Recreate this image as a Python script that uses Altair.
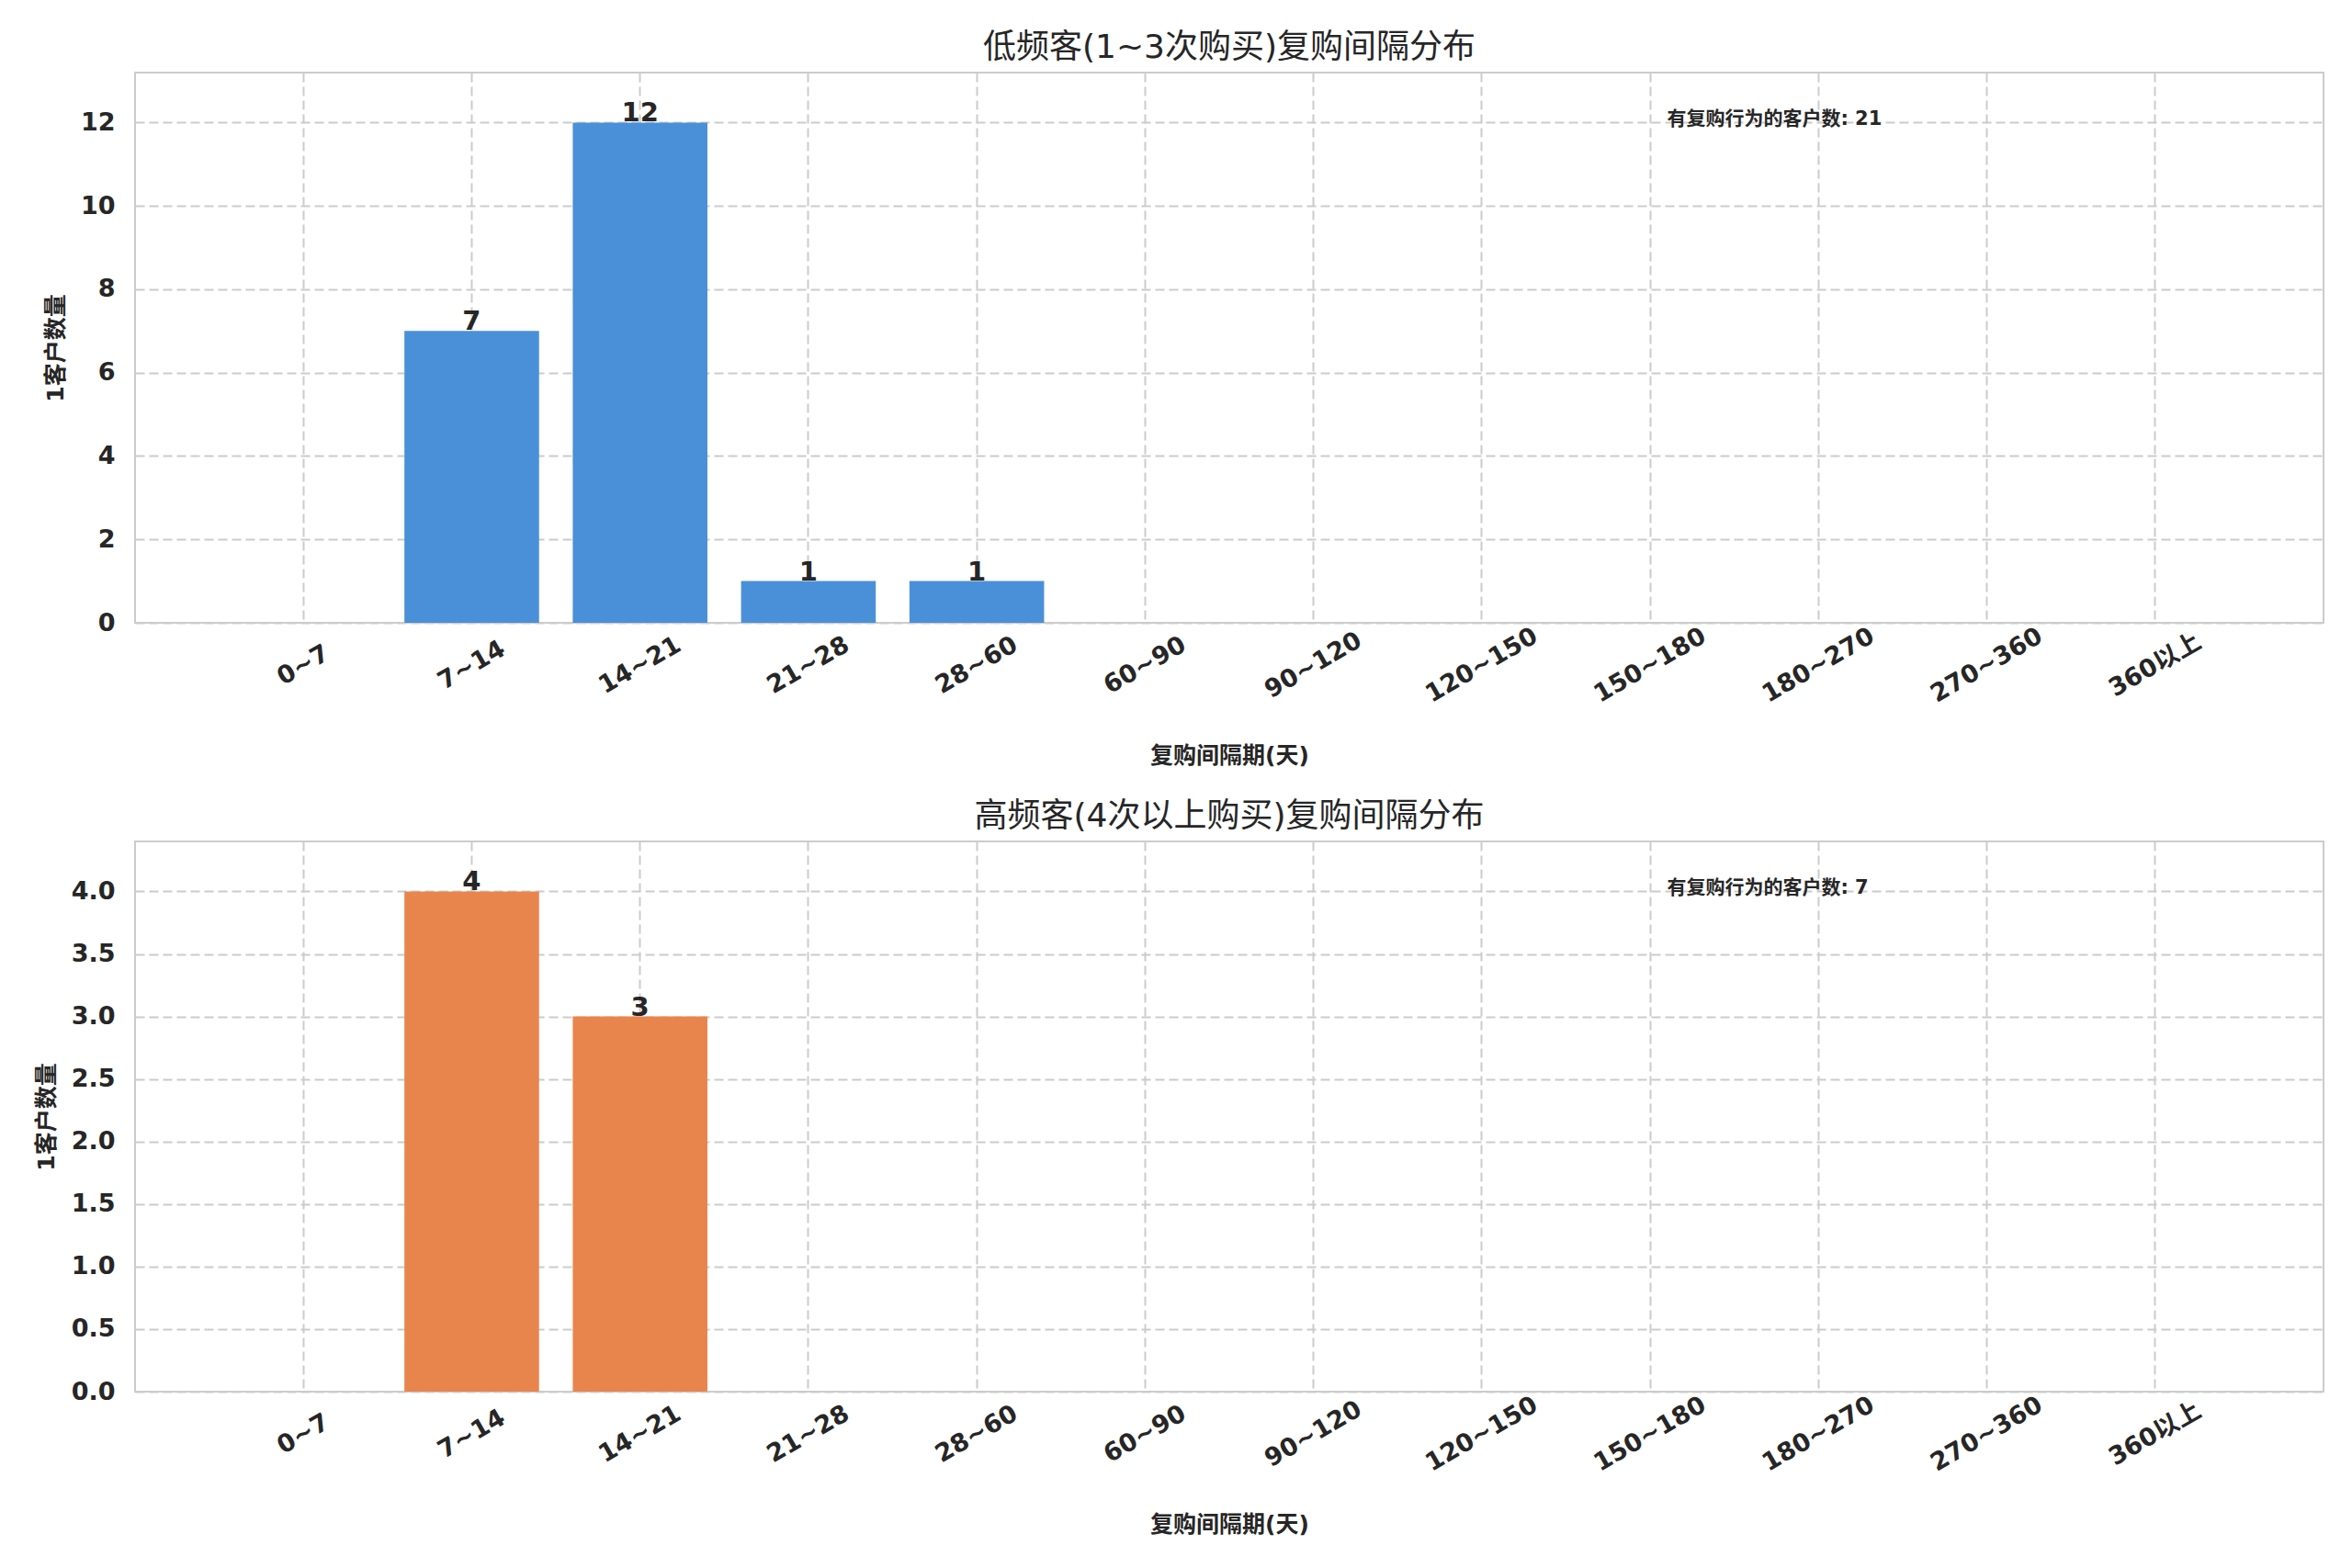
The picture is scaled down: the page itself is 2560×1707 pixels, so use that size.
import altair as alt
import pandas as pd

# ---- data ----
categories = ["0~7", "7~14", "14~21", "21~28", "28~60", "60~90", "90~120",
              "120~150", "150~180", "180~270", "270~360", "360以上"]
low_counts = [0, 7, 12, 1, 1, 0, 0, 0, 0, 0, 0, 0]
high_counts = [0, 4, 3, 0, 0, 0, 0, 0, 0, 0, 0, 0]
panel_titles = ["低频客(1~3次购买)复购间隔分布", "高频客(4次以上购买)复购间隔分布"]
panel_colors = ["#4A90D9", "#E8854D"]
panel_totals = [21, 7]
panel_ymax = [13.2, 4.4]
top_ticks = [0, 2, 4, 6, 8, 10, 12]
bottom_ticks = [0.0, 0.5, 1.0, 1.5, 2.0, 2.5, 3.0, 3.5, 4.0]
x_title = "复购间隔期(天)"
y_title = "1客户数量"
note_prefix = "有复购行为的客户数"

W = 2382
H = 599
FONT = "DejaVu Sans, Noto Sans CJK SC, sans-serif"
TXT = "#262626"


def panel(counts, title, color, ymax, ticks, fmt, total):
    df = pd.DataFrame({"cat": categories, "count": counts})
    xenc = alt.X(
        "cat:N", sort=categories,
        scale=alt.Scale(paddingInner=0.2, paddingOuter=0.6),
        axis=alt.Axis(title=x_title, labelAngle=-30, labelAlign="center",
                      labelBaseline="middle", labelPadding=46,
                      bandPosition=0.5, grid=True, titlePadding=41),
    )
    yenc = alt.Y(
        "count:Q",
        scale=alt.Scale(domain=[0, ymax], nice=False, zero=True),
        axis=alt.Axis(title=y_title, values=ticks, format=fmt, grid=True,
                      titlePadding=14),
    )
    base = alt.Chart(df).encode(x=xenc)
    bars = base.mark_bar(color=color).encode(y=yenc)
    labels = (
        base.transform_filter("datum.count > 0")
        .mark_text(baseline="alphabetic", align="center", dy=-1,
                   fontSize=29, fontWeight="bold", color=TXT, font=FONT)
        .encode(y=alt.Y("count:Q"), text=alt.Text("count:Q"))
    )
    note_df = pd.DataFrame({"t": [f"{note_prefix}: {total}"]})
    note = (
        alt.Chart(note_df)
        .mark_text(align="left", baseline="middle", fontSize=21,
                   fontWeight="bold", color=TXT, font=FONT)
        .encode(x=alt.value(0.7 * W), y=alt.value(51), text="t:N")
    )
    return alt.layer(bars, labels, note).properties(
        width=W, height=H,
        title=alt.Title(title, fontSize=36, fontWeight="normal", color=TXT,
                        font=FONT, offset=8, anchor="middle"),
    )


top = panel(low_counts, panel_titles[0], panel_colors[0], panel_ymax[0],
            top_ticks, "d", panel_totals[0])
bottom = panel(high_counts, panel_titles[1], panel_colors[1], panel_ymax[1],
               bottom_ticks, ".1f", panel_totals[1])

chart = (
    alt.vconcat(top, bottom, spacing=33)
    .properties(padding={"left": 29, "top": 25, "right": 5, "bottom": 5})
    .configure(background="white")
    .configure_view(stroke="#cccccc", strokeWidth=2)
    .configure_axis(
        labelFont=FONT, titleFont=FONT, labelFontSize=27, titleFontSize=25,
        labelFontWeight="bold", titleFontWeight="bold",
        labelColor=TXT, titleColor=TXT,
        domain=False, ticks=False,
        gridColor="#cccccc", gridDash=[10, 5], gridWidth=2,
    )
    .configure_axisY(labelPadding=22)
)

chart.save("out.html", embed_options={"renderer": "svg", "actions": False})
